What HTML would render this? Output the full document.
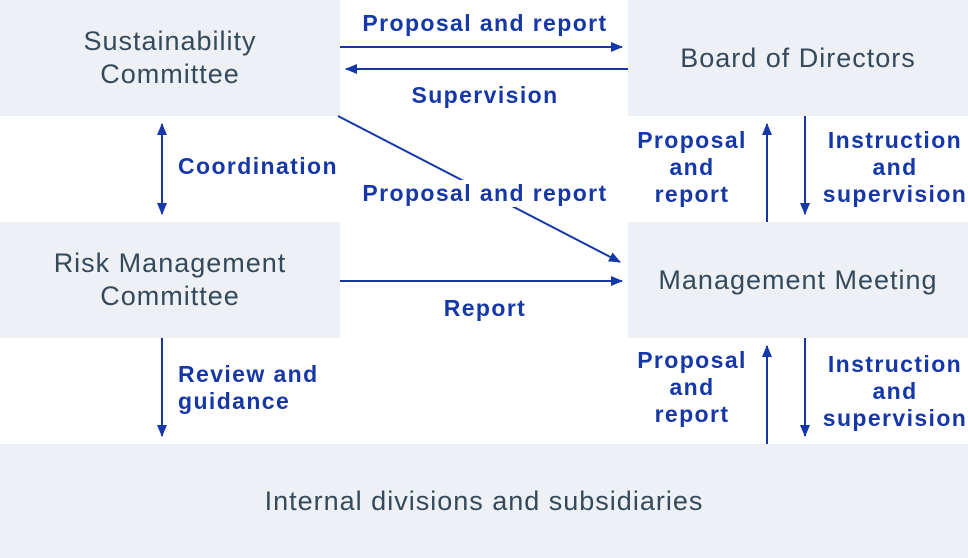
<!DOCTYPE html>
<html><head><style>
body{margin:0;width:968px;height:558px;background:#fff;position:relative;overflow:hidden;font-family:"Liberation Sans","DejaVu Sans",sans-serif}
.box{position:absolute;background:#edf0f5;color:#34495a;font-size:27px;letter-spacing:1px;display:flex;align-items:center;justify-content:center;text-align:center;line-height:33px}
.lb{position:absolute;color:#1537a8;font-weight:bold;font-size:23px;letter-spacing:1.4px;line-height:27px;text-align:center}
svg{position:absolute;left:0;top:0}
</style></head><body>
<div class="box" style="left:0;top:0;width:340px;height:116px">Sustainability<br>Committee</div>
<div class="box" style="left:628px;top:0;width:340px;height:116px">Board of Directors</div>
<div class="box" style="left:0;top:222px;width:340px;height:116px">Risk Management<br>Committee</div>
<div class="box" style="left:628px;top:222px;width:340px;height:116px">Management Meeting</div>
<div class="box" style="left:0;top:444px;width:968px;height:114px">Internal divisions and subsidiaries</div>
<svg width="968" height="558">
<defs><marker id="a" markerWidth="12" markerHeight="10" refX="11" refY="5" orient="auto-start-reverse" markerUnits="userSpaceOnUse"><path d="M0,0L12,5L0,10z" fill="#1537a8"/></marker></defs>
<g stroke="#1537a8" stroke-width="2" fill="none">
<line x1="340" y1="47" x2="622" y2="47" marker-end="url(#a)"/>
<line x1="628" y1="69" x2="346" y2="69" marker-end="url(#a)"/>
<line x1="338" y1="116" x2="620" y2="262" marker-end="url(#a)"/>
<line x1="340" y1="281" x2="622" y2="281" marker-end="url(#a)"/>
<line x1="162" y1="124" x2="162" y2="214" marker-end="url(#a)" marker-start="url(#a)"/>
<line x1="162" y1="338" x2="162" y2="436" marker-end="url(#a)"/>
<line x1="767" y1="222" x2="767" y2="124" marker-end="url(#a)"/>
<line x1="805" y1="116" x2="805" y2="214" marker-end="url(#a)"/>
<line x1="767" y1="444" x2="767" y2="346" marker-end="url(#a)"/>
<line x1="805" y1="338" x2="805" y2="436" marker-end="url(#a)"/>
</g>
</svg>
<div class="lb" style="left:345px;top:10px;width:280px">Proposal and report</div>
<div class="lb" style="left:345px;top:82px;width:280px">Supervision</div>
<div class="lb" style="left:352px;top:180px;width:266px;background:#fff">Proposal and report</div>
<div class="lb" style="left:345px;top:295px;width:280px">Report</div>
<div class="lb" style="left:178px;top:153px;text-align:left">Coordination</div>
<div class="lb" style="left:178px;top:361px;text-align:left">Review and<br>guidance</div>
<div class="lb" style="left:628px;top:127px;width:128px">Proposal<br>and<br>report</div>
<div class="lb" style="left:816px;top:127px;width:158px">Instruction<br>and<br>supervision</div>
<div class="lb" style="left:628px;top:347px;width:128px">Proposal<br>and<br>report</div>
<div class="lb" style="left:816px;top:351px;width:158px">Instruction<br>and<br>supervision</div>
</body></html>
